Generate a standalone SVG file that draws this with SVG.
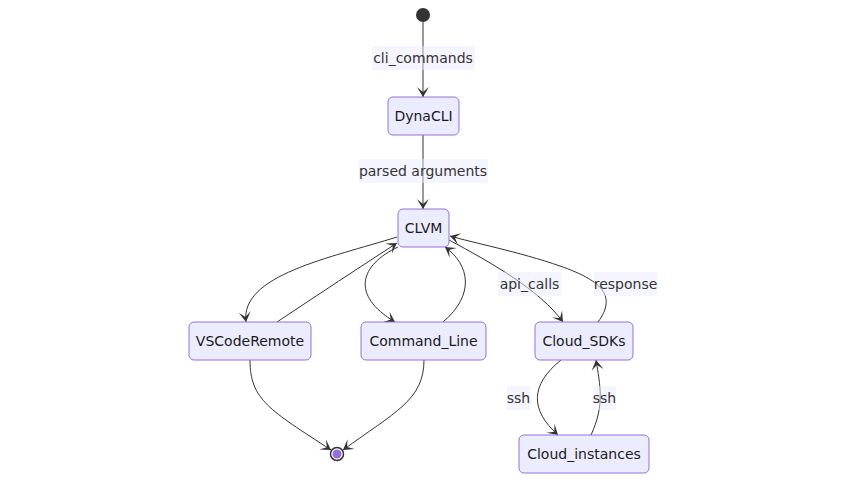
<svg xmlns="http://www.w3.org/2000/svg" width="846" height="482" viewBox="0 0 846 482">
<style>
.node rect{fill:#ECECFF;stroke:#9370DB;stroke-width:1}
.node text{font-family:"DejaVu Sans",sans-serif;font-size:14px;fill:#1a1a1a;text-anchor:middle}
.edge{fill:none;stroke:#333;stroke-width:1}
.lbl rect{fill:#ECECFF;opacity:0.5}
.lbl text{font-family:"DejaVu Sans",sans-serif;font-size:14px;fill:#333;text-anchor:middle}
</style>
<defs>
<marker id="arr" viewBox="0 0 20 14" refX="19" refY="7" markerWidth="20" markerHeight="14" markerUnits="userSpaceOnUse" orient="auto">
<path d="M19,7 L9,13 L14,7 L9,1 Z" fill="#333"/>
</marker>
</defs>
<rect width="846" height="482" fill="#fff"/>
<g id="connectors">
<path class="edge" d="M423,22 L423,97" marker-end="url(#arr)"/>
<path class="edge" d="M423,134 L423,209" marker-end="url(#arr)"/>
<path class="edge" d="M397,237 C330,258 240,275 246,322" marker-end="url(#arr)"/>
<path class="edge" d="M277,322 Q340,280 397,243" marker-end="url(#arr)"/>
<path class="edge" d="M398,247 C360,265 350,295 395,322" marker-end="url(#arr)"/>
<path class="edge" d="M443,322 C475,295 470,265 445,247" marker-end="url(#arr)"/>
<path class="edge" d="M449,240 C490,262 540,290 563,322" marker-end="url(#arr)"/>
<path class="edge" d="M598,322 C618,295 600,280 560,266 S470,242 450,236" marker-end="url(#arr)"/>
<path class="edge" d="M561,360 C530,385 530,410 558,435" marker-end="url(#arr)"/>
<path class="edge" d="M591,435 C605,405 600,385 596,360" marker-end="url(#arr)"/>
<path class="edge" d="M250,360 C250,400 270,410 331,450" marker-end="url(#arr)"/>
<path class="edge" d="M424,360 C424,400 395,412 343,450" marker-end="url(#arr)"/>
<g class="lbl"><rect x="372" y="46" width="103" height="24"/><text x="423" y="63">cli_commands</text></g>
<g class="lbl"><rect x="359" y="159" width="129" height="24"/><text x="423" y="176">parsed arguments</text></g>
<g class="lbl"><rect x="498" y="272" width="63" height="24"/><text x="529.5" y="289">api_calls</text></g>
<g class="lbl"><rect x="594" y="272" width="63" height="24"/><text x="625.5" y="289">response</text></g>
<g class="lbl"><rect x="507" y="386" width="23" height="24"/><text x="518.5" y="403">ssh</text></g>
<g class="lbl"><rect x="593" y="386" width="23" height="24"/><text x="604.5" y="403">ssh</text></g>
</g>
<g id="start"><circle cx="423" cy="15" r="7" fill="#333"/></g>
<g id="end"><circle cx="337" cy="454" r="6.5" fill="#fff" stroke="#333" stroke-width="1.5"/><circle cx="337" cy="454" r="4.5" fill="#9370DB"/></g>
<g id="DynaCLI" class="node"><rect x="388" y="97" width="71" height="38" rx="5"/><text x="423.5" y="121">DynaCLI</text></g>
<g id="CLVM" class="node"><rect x="398" y="209" width="51" height="38" rx="5"/><text x="423.5" y="233">CLVM</text></g>
<g id="VSCodeRemote" class="node"><rect x="189" y="322" width="122" height="38" rx="5"/><text x="250" y="346">VSCodeRemote</text></g>
<g id="Command_Line" class="node"><rect x="361" y="322" width="125" height="38" rx="5"/><text x="423.5" y="346">Command_Line</text></g>
<g id="Cloud_SDKs" class="node"><rect x="535" y="322" width="98" height="38" rx="5"/><text x="584" y="346">Cloud_SDKs</text></g>
<g id="Cloud_instances" class="node"><rect x="519" y="435" width="130" height="38" rx="5"/><text x="584" y="459">Cloud_instances</text></g>
</svg>
